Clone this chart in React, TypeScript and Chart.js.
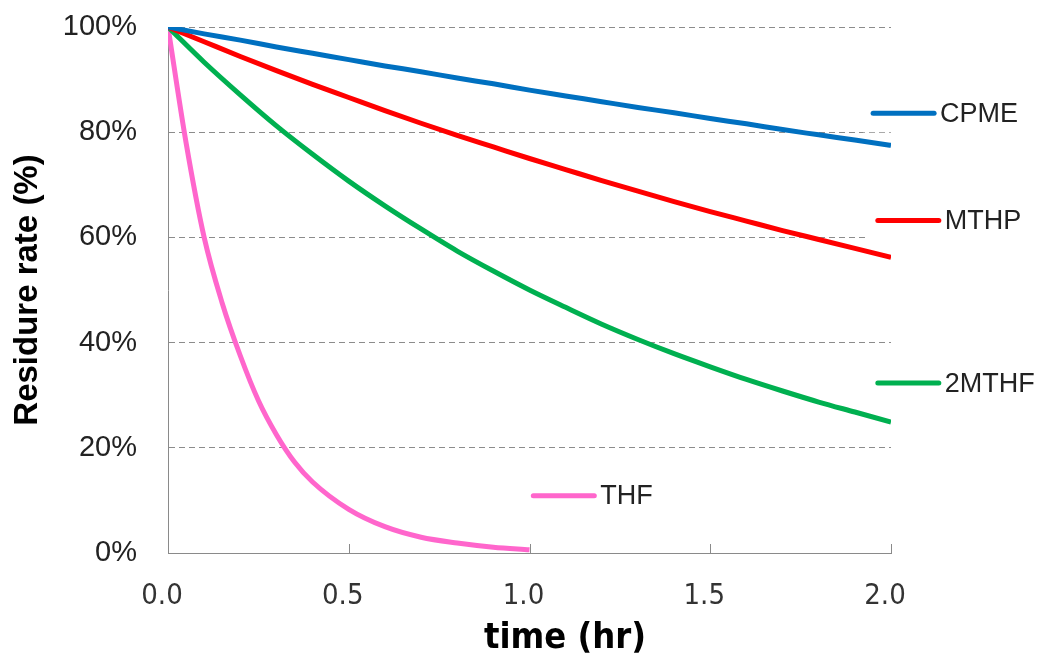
import React, { useEffect, useRef } from "react";
import { Chart, registerables } from "chart.js";

Chart.register(...registerables);

// ---- data ----
const seriesNames = ["CPME", "MTHP", "2MTHF", "THF"];
const seriesColors = ["#0070C0", "#FF0000", "#00B050", "#FF66CC"];

const timeHours = [0, 0.1, 0.2, 0.3, 0.4, 0.5, 0.6, 0.7, 0.8, 0.9, 1.0, 1.1, 1.2, 1.3, 1.4, 1.5, 1.6, 1.7, 1.8, 1.9, 2.0];
const cpmeValues = [100, 98.7, 97.5, 96.2, 95.0, 93.8, 92.6, 91.5, 90.3, 89.2, 88.0, 86.9, 85.8, 84.7, 83.7, 82.6, 81.6, 80.5, 79.5, 78.5, 77.5];
const mthpValues = [100, 97.2, 94.4, 91.7, 89.1, 86.6, 84.1, 81.7, 79.4, 77.2, 75.0, 72.9, 70.8, 68.8, 66.8, 64.9, 63.1, 61.3, 59.6, 57.9, 56.2];
const mthf2Values = [100, 93.3, 87.1, 81.2, 75.8, 70.7, 66.0, 61.6, 57.4, 53.6, 50.0, 46.7, 43.5, 40.6, 37.9, 35.4, 33.0, 30.8, 28.7, 26.8, 24.9];

const thfHours = [0, 0.05, 0.1, 0.15, 0.2, 0.25, 0.3, 0.35, 0.4, 0.5, 0.6, 0.7, 0.8, 0.9, 1.0];
const thfValues = [100, 78, 60, 47.5, 37.5, 29, 22.5, 17.3, 13.5, 8.3, 5.0, 3.0, 1.9, 1.1, 0.6];

const xTickValues = [0, 0.5, 1.0, 1.5, 2.0];
const yTickValues = [0, 20, 40, 60, 80, 100];

// label anchors in data units (time where the legend line starts, value level)
const labelStartX = [1.945, 1.958, 1.958, 1.005];
const labelLevelY = [83.6, 63.2, 32.3, 10.9];

const xTitle = "time (hr)";
const yTitle = "Residure rate (%)";

const toPoints = (xs: number[], ys: number[]) => xs.map((x, i) => ({ x, y: ys[i] }));

const inlinePlugin = {
  id: "inlineLabels",
  beforeDatasetsDraw(chart: any) {
    const { ctx, scales } = chart;
    const xs = scales.x;
    const ys = scales.y;
    ctx.save();
    ctx.fillStyle = "#ffffff";
    // legend boxes hide the grid lines under the right-hand labels
    for (let i = 0; i < 2; i++) {
      const x0 = xs.getPixelForValue(labelStartX[i]) - 8;
      const yc = ys.getPixelForValue(labelLevelY[i]);
      ctx.fillRect(x0, yc - 19, 1040 - x0, 38);
    }
    ctx.restore();
  },
  afterDraw(chart: any) {
    const { ctx, scales } = chart;
    const xs = scales.x;
    const ys = scales.y;
    ctx.save();
    // inward tick marks on x axis
    ctx.strokeStyle = "#8a8a8a";
    ctx.lineWidth = 1;
    const yb = ys.getPixelForValue(0);
    xTickValues.forEach((v) => {
      const px = Math.round(xs.getPixelForValue(v)) + 0.5;
      ctx.beginPath();
      ctx.moveTo(px, yb);
      ctx.lineTo(px, yb - 9);
      ctx.stroke();
    });
    // inline series labels
    ctx.lineCap = "round";
    ctx.lineWidth = 5;
    ctx.font = '27px "Liberation Sans", Arial, sans-serif';
    ctx.textBaseline = "middle";
    ctx.textAlign = "left";
    seriesNames.forEach((name, i) => {
      const x0 = xs.getPixelForValue(labelStartX[i]);
      const yc = ys.getPixelForValue(labelLevelY[i]);
      ctx.strokeStyle = seriesColors[i];
      ctx.beginPath();
      ctx.moveTo(x0 + 2, yc);
      ctx.lineTo(x0 + 63, yc);
      ctx.stroke();
      ctx.fillStyle = "#222222";
      ctx.fillText(name, x0 + 69, yc + 1);
    });
    // x axis title
    ctx.font = 'bold 36px "Liberation Sans Narrow", "DejaVu Sans Condensed", Arial, sans-serif';
    ctx.textAlign = "center";
    ctx.textBaseline = "alphabetic";
    ctx.fillStyle = "#000000";
    ctx.fillText(xTitle, 565, 648);
    ctx.restore();
  },
};

export default function App() {
  const canvasRef = useRef<HTMLCanvasElement | null>(null);

  useEffect(() => {
    const canvas = canvasRef.current;
    if (!canvas) return;
    const datasets = [
      { label: seriesNames[0], data: toPoints(timeHours, cpmeValues) },
      { label: seriesNames[1], data: toPoints(timeHours, mthpValues) },
      { label: seriesNames[2], data: toPoints(timeHours, mthf2Values) },
      { label: seriesNames[3], data: toPoints(thfHours, thfValues) },
    ].map((d, i) => ({
      ...d,
      borderColor: seriesColors[i],
      backgroundColor: seriesColors[i],
      borderWidth: 5,
      pointRadius: 0,
      fill: false,
      cubicInterpolationMode: "monotone" as const,
      borderCapStyle: "butt" as const,
    }));

    const chart = new Chart(canvas, {
      type: "line",
      data: { datasets },
      plugins: [inlinePlugin],
      options: {
        animation: false,
        responsive: false,
        devicePixelRatio: 1,
        layout: { padding: { left: 0, right: 149, top: 27, bottom: 0 } },
        plugins: { legend: { display: false }, tooltip: { enabled: false } },
        scales: {
          x: {
            type: "linear",
            min: 0,
            max: 2,
            afterBuildTicks: (scale: any) => {
              scale.ticks = xTickValues.map((v) => ({ value: v }));
            },
            afterFit: (scale: any) => {
              scale.height = 104;
            },
            grid: { display: false, drawTicks: false },
            border: { display: true, color: "#8a8a8a", width: 1 },
            ticks: {
              padding: 26,
              labelOffset: -6,
              color: "#333333",
              font: { family: '"Liberation Sans Narrow", "DejaVu Sans Condensed", Arial, sans-serif', size: 29 },
              callback: (v: any) => Number(v).toFixed(1),
            },
          },
          y: {
            type: "linear",
            min: 0,
            max: 100,
            afterBuildTicks: (scale: any) => {
              scale.ticks = yTickValues.map((v) => ({ value: v }));
            },
            afterFit: (scale: any) => {
              scale.width = 168;
            },
            grid: {
              color: "#8c8c8c",
              lineWidth: 1,
              drawTicks: true,
              tickLength: 31,
              tickColor: "rgba(0,0,0,0)",
            },
            border: { display: true, color: "#8a8a8a", width: 1, dash: [6, 4] },
            ticks: {
              padding: 0,
              color: "#222222",
              font: { family: '"Liberation Sans", Arial, sans-serif', size: 29 },
              callback: (v: any) => `${v}%`,
            },
            title: {
              display: true,
              text: yTitle,
              color: "#000000",
              font: { family: '"Liberation Sans", Arial, sans-serif', size: 33, weight: "bold" },
              padding: { top: 8, bottom: 0 },
            },
          },
        },
      },
    });
    return () => chart.destroy();
  }, []);

  return (
    <div style={{ position: "fixed", left: 0, top: 0, width: 1040, height: 657, background: "#ffffff" }}>
      <canvas ref={canvasRef} width={1040} height={657} style={{ display: "block" }} />
    </div>
  );
}
